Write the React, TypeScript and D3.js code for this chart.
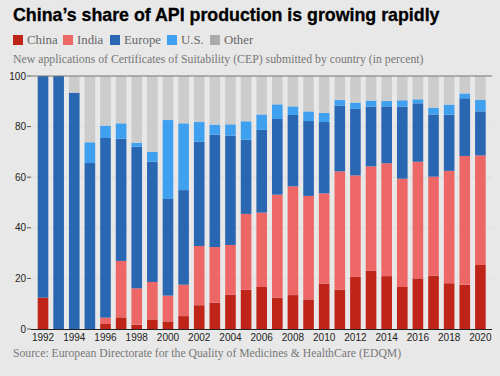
import React from "react";
import * as d3 from "d3";

const years = d3.range(1992, 2021).map(String);
const china = [12.4, 0, 0, 0, 2.0, 4.6, 1.7, 3.8, 3.0, 5.1, 9.4, 10.4, 13.6, 15.5, 16.6, 12.4, 13.4, 11.7, 17.9, 15.5, 20.6, 23.1, 20.9, 16.6, 20.0, 21.1, 18.1, 17.5, 25.3];
const india = [0, 0, 0, 0, 2.5, 22.3, 14.4, 14.8, 10.2, 12.4, 23.4, 22.0, 19.6, 30.0, 29.4, 40.7, 43.0, 40.9, 35.7, 46.8, 40.1, 41.2, 44.6, 42.8, 46.1, 39.1, 44.4, 50.9, 43.3];
const europe = [87.6, 100, 93.4, 65.6, 71.0, 48.3, 56.0, 47.5, 38.2, 37.4, 41.2, 44.4, 43.2, 29.3, 32.7, 29.9, 28.2, 29.6, 28.2, 26.0, 26.3, 23.6, 22.5, 28.5, 23.1, 24.6, 22.2, 22.8, 17.4];
const us = [0, 0, 0, 8.2, 4.9, 6.1, 1.5, 3.9, 31.2, 26.4, 7.8, 4.0, 4.5, 7.3, 6.1, 5.8, 3.4, 3.8, 3.6, 2.2, 2.5, 2.4, 2.1, 2.5, 1.6, 2.7, 4.0, 1.9, 4.5];
const seriesNames = ["China", "India", "Europe", "U.S.", "Other"];
const seriesColors = ["#bf2419", "#ee6767", "#2a67b3", "#40a0f0", "#cccccc"];
const legendColors = ["#bf2419", "#ee6767", "#2a67b3", "#40a0f0", "#ababab"];
const yTicks = [0, 20, 40, 60, 80, 100];
const xTickYears = years.filter((_, i) => i % 2 === 0);

const other = years.map((_, i) => Math.max(0, 100 - china[i] - india[i] - europe[i] - us[i]));
const table = years.map((y, i) => ({ year: y, China: china[i], India: india[i], Europe: europe[i], "U.S.": us[i], Other: other[i] }));

export default function App() {
  const W = 500, H = 376;
  const left = 31, right = 492, top = 76, bottom = 329;
  const x = d3.scaleBand().domain(years).range([35.2, 488.2]).paddingInner(0.32).paddingOuter(0.16);
  const y = d3.scaleLinear().domain([0, 100]).range([bottom, top]);
  const stacked = d3.stack<any>().keys(seriesNames)(table);
  const sans = "Liberation Sans, Arial, sans-serif";
  const serif = "Liberation Serif, Georgia, serif";
  const legendX = [13, 63, 110, 167, 210];

  return (
    <svg width={W} height={H} style={{ position: "absolute", left: 0, top: 0 }}>
      <rect width={W} height={H} fill="#e8e8e8" />
      <text x={13} y={21} fontFamily={sans} fontWeight="bold" fontSize={17.8} fill="#000" stroke="#000" strokeWidth={0.3}>China’s share of API production is growing rapidly</text>
      {seriesNames.map((s, i) => (
        <g key={s}>
          <rect x={legendX[i]} y={35} width={10} height={10} fill={legendColors[i]} />
          <text x={legendX[i] + 14} y={44} fontFamily={serif} fontSize={12.8} fill="#666">{s}</text>
        </g>
      ))}
      <text x={13} y={63} fontFamily={serif} fontSize={11.8} fill="#777">New applications of Certificates of Suitability (CEP) submitted by country (in percent)</text>
      {yTicks.slice(1, 5).map((t) => (
        <line key={t} x1={left} x2={right} y1={y(t)} y2={y(t)} stroke="#dcdcdc" strokeWidth={0.8} />
      ))}
      {stacked.map((layer, li) => (
        <g key={layer.key} fill={seriesColors[li]}>
          {layer.map((d: any, i: number) => (
            <rect key={i} x={x(years[i])} width={x.bandwidth()} y={y(d[1])} height={Math.max(0, y(d[0]) - y(d[1]))} />
          ))}
        </g>
      ))}
      <line x1={left} x2={right} y1={y(100)} y2={y(100)} stroke="#777" strokeWidth={1} />
      <line x1={left} x2={right} y1={y(0) + 0.5} y2={y(0) + 0.5} stroke="#222" strokeWidth={1.2} />
      {yTicks.map((t) => (
        <g key={t}>
          <line x1={left - 4} x2={left} y1={y(t)} y2={y(t)} stroke="#555" />
          <text x={left - 5} y={y(t) + 3.5} textAnchor="end" fontFamily={sans} fontSize={10} fill="#222">{t}</text>
        </g>
      ))}
      {xTickYears.map((yr) => (
        <text key={yr} x={(x(yr) as number) + x.bandwidth() / 2} y={341} textAnchor="middle" fontFamily={sans} fontSize={10} fill="#222">{yr}</text>
      ))}
      <text x={13} y={357} fontFamily={serif} fontSize={11.7} fill="#777">Source: European Directorate for the Quality of Medicines &amp; HealthCare (EDQM)</text>
    </svg>
  );
}
